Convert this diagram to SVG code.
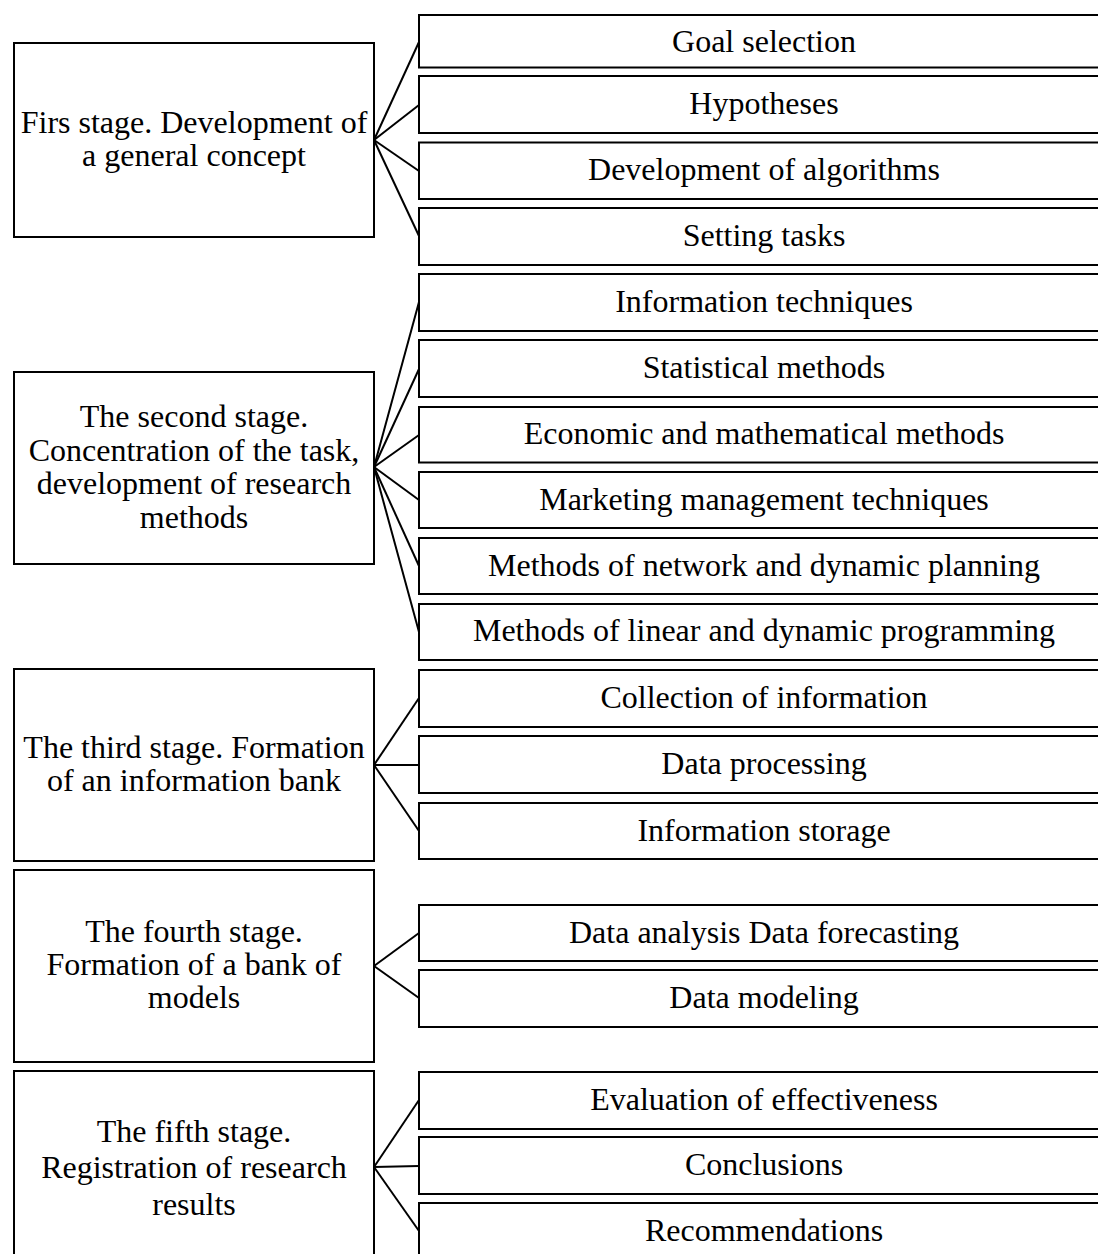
<svg xmlns="http://www.w3.org/2000/svg" width="1098" height="1254" viewBox="0 0 1098 1254">
  <style>
    .box { fill: none; stroke: #000; stroke-width: 2; }
    .lbl { font-family: "Liberation Serif", "Times New Roman", serif; font-size: 32px; fill: #000; text-anchor: middle; }
    .conn line { stroke: #000; stroke-width: 2; }
  </style>
  <rect width="1098" height="1254" fill="#fff"/>

  <!-- connectors: each stage fans out to its items -->
  <g id="connectors" class="conn">
    <line x1="374" y1="140" x2="419" y2="42"/>
    <line x1="374" y1="140" x2="419" y2="105"/>
    <line x1="374" y1="140" x2="419" y2="171"/>
    <line x1="374" y1="140" x2="419" y2="236"/>

    <line x1="374" y1="467" x2="419" y2="302"/>
    <line x1="374" y1="467" x2="419" y2="369"/>
    <line x1="374" y1="467" x2="419" y2="435"/>
    <line x1="374" y1="467" x2="419" y2="500"/>
    <line x1="374" y1="467" x2="419" y2="566"/>
    <line x1="374" y1="467" x2="419" y2="632"/>

    <line x1="374" y1="765" x2="419" y2="698"/>
    <line x1="374" y1="765" x2="419" y2="765"/>
    <line x1="374" y1="765" x2="419" y2="831"/>

    <line x1="374" y1="966" x2="419" y2="933"/>
    <line x1="374" y1="966" x2="419" y2="998"/>

    <line x1="374" y1="1167" x2="419" y2="1100"/>
    <line x1="374" y1="1167" x2="419" y2="1166"/>
    <line x1="374" y1="1167" x2="419" y2="1231"/>
  </g>

  <!-- stages -->
  <g id="stage1">
    <rect class="box" x="14" y="43" width="360" height="194"/>
    <text class="lbl" x="194" y="133">Firs stage. Development of</text>
    <text class="lbl" x="194" y="166">a general concept</text>
  </g>
  <g id="stage2">
    <rect class="box" x="14" y="372" width="360" height="192"/>
    <text class="lbl" x="194" y="427">The second stage.</text>
    <text class="lbl" x="194" y="461">Concentration of the task,</text>
    <text class="lbl" x="194" y="494">development of research</text>
    <text class="lbl" x="194" y="528">methods</text>
  </g>
  <g id="stage3">
    <rect class="box" x="14" y="669" width="360" height="192"/>
    <text class="lbl" x="194" y="758">The third stage. Formation</text>
    <text class="lbl" x="194" y="791">of an information bank</text>
  </g>
  <g id="stage4">
    <rect class="box" x="14" y="870" width="360" height="192"/>
    <text class="lbl" x="194" y="942">The fourth stage.</text>
    <text class="lbl" x="194" y="975">Formation of a bank of</text>
    <text class="lbl" x="194" y="1008">models</text>
  </g>
  <g id="stage5">
    <rect class="box" x="14" y="1071" width="360" height="200"/>
    <text class="lbl" x="194" y="1142">The fifth stage.</text>
    <text class="lbl" x="194" y="1178">Registration of research</text>
    <text class="lbl" x="194" y="1215">results</text>
  </g>

  <!-- items -->
  <g id="item-goal"><rect class="box" x="419" y="15" width="700" height="52.5"/><text class="lbl" x="764" y="52">Goal selection</text></g>
  <g id="item-hypotheses"><rect class="box" x="419" y="76" width="700" height="57"/><text class="lbl" x="764" y="114">Hypotheses</text></g>
  <g id="item-algorithms"><rect class="box" x="419" y="142.5" width="700" height="56.5"/><text class="lbl" x="764" y="180">Development of algorithms</text></g>
  <g id="item-tasks"><rect class="box" x="419" y="208" width="700" height="57"/><text class="lbl" x="764" y="246">Setting tasks</text></g>

  <g id="item-info-tech"><rect class="box" x="419" y="274" width="700" height="57"/><text class="lbl" x="764" y="312">Information techniques</text></g>
  <g id="item-statistical"><rect class="box" x="419" y="340" width="700" height="57"/><text class="lbl" x="764" y="378">Statistical methods</text></g>
  <g id="item-econ-math"><rect class="box" x="419" y="407" width="700" height="55.5"/><text class="lbl" x="764" y="444">Economic and mathematical methods</text></g>
  <g id="item-marketing"><rect class="box" x="419" y="472" width="700" height="56"/><text class="lbl" x="764" y="510">Marketing management techniques</text></g>
  <g id="item-network"><rect class="box" x="419" y="538" width="700" height="56"/><text class="lbl" x="764" y="576">Methods of network and dynamic planning</text></g>
  <g id="item-linear"><rect class="box" x="419" y="604" width="700" height="56"/><text class="lbl" x="764" y="641">Methods of linear and dynamic programming</text></g>

  <g id="item-collection"><rect class="box" x="419" y="670" width="700" height="57"/><text class="lbl" x="764" y="708">Collection of information</text></g>
  <g id="item-processing"><rect class="box" x="419" y="736" width="700" height="57"/><text class="lbl" x="764" y="774">Data processing</text></g>
  <g id="item-storage"><rect class="box" x="419" y="803" width="700" height="56"/><text class="lbl" x="764" y="841">Information storage</text></g>

  <g id="item-analysis"><rect class="box" x="419" y="905" width="700" height="56"/><text class="lbl" x="764" y="943">Data analysis Data forecasting</text></g>
  <g id="item-modeling"><rect class="box" x="419" y="970" width="700" height="57"/><text class="lbl" x="764" y="1008">Data modeling</text></g>

  <g id="item-evaluation"><rect class="box" x="419" y="1072" width="700" height="57"/><text class="lbl" x="764" y="1110">Evaluation of effectiveness</text></g>
  <g id="item-conclusions"><rect class="box" x="419" y="1137" width="700" height="57"/><text class="lbl" x="764" y="1175">Conclusions</text></g>
  <g id="item-recommendations"><rect class="box" x="419" y="1203" width="700" height="60"/><text class="lbl" x="764" y="1241">Recommendations</text></g>
</svg>
